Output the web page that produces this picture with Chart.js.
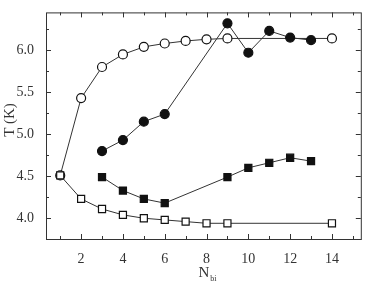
<!DOCTYPE html>
<html>
<head>
<meta charset="utf-8">
<script src="https://cdn.jsdelivr.net/npm/chart.js@4"></script>
<style>
  html, body { margin: 0; padding: 0; background: #fff; }
  #wrap { width: 367px; height: 282px; }
</style>
</head>
<body>
<div id="wrap"><canvas id="chart-1"></canvas></div>
<script>
const xOpenCircle = [1, 2, 3, 4, 5, 6, 7, 8, 9, 14];
const yOpenCircle = [4.51, 5.43, 5.80, 5.95, 6.04, 6.08, 6.11, 6.13, 6.14, 6.14];
const xFilledCircle = [3, 4, 5, 6, 9, 10, 11, 12, 13];
const yFilledCircle = [4.80, 4.93, 5.15, 5.24, 6.32, 5.97, 6.23, 6.15, 6.12];
const xFilledSquare = [3, 4, 5, 6, 9, 10, 11, 12, 13];
const yFilledSquare = [4.49, 4.33, 4.23, 4.18, 4.49, 4.60, 4.66, 4.72, 4.68];
const xOpenSquare = [1, 2, 3, 4, 5, 6, 7, 8, 9, 14];
const yOpenSquare = [4.51, 4.23, 4.11, 4.04, 4.00, 3.98, 3.96, 3.94, 3.94, 3.94];
const xTicks = [2, 4, 6, 8, 10, 12, 14];
const yTicks = [4.0, 4.5, 5.0, 5.5, 6.0];

const FONT = "'Liberation Serif', 'DejaVu Serif', serif";
const INK = "#333";

function pts(xs, ys) {
  return xs.map((x, i) => ({ x: x, y: ys[i] }));
}

function series(xs, ys, style, fill) {
  return {
    data: pts(xs, ys),
    showLine: true,
    borderColor: INK,
    borderWidth: 1,
    pointStyle: style,
    pointRadius: style === "rect" ? 5 : 4.5,
    pointBackgroundColor: fill,
    pointBorderColor: "#111",
    pointBorderWidth: 1.2,
  };
}

// frame, inward ticks on all sides, axis titles
const frame = {
  id: "frame",
  afterDraw(chart) {
    const c = chart.ctx;
    const a = chart.chartArea;
    const xs = chart.scales.x;
    const ys = chart.scales.y;
    c.save();
    c.strokeStyle = INK;
    c.lineWidth = 1;
    c.strokeRect(a.left + 0.5, a.top + 0.5, a.right - a.left, a.bottom - a.top);
    c.beginPath();
    for (let v = 1; v <= 15; v++) {
      const len = v % 2 === 0 ? 5 : 3;
      const p = Math.round(xs.getPixelForValue(v)) + 0.5;
      c.moveTo(p, a.bottom); c.lineTo(p, a.bottom - len);
      c.moveTo(p, a.top); c.lineTo(p, a.top + len);
    }
    for (let v = 3.75; v <= 6.45; v += 0.25) {
      const len = Math.abs(v * 2 - Math.round(v * 2)) < 0.01 ? 5 : 3;
      const p = Math.round(ys.getPixelForValue(v)) + 0.5;
      c.moveTo(a.left, p); c.lineTo(a.left + len, p);
      c.moveTo(a.right, p); c.lineTo(a.right - len, p);
    }
    c.stroke();

    c.fillStyle = INK;
    c.textBaseline = "alphabetic";
    c.textAlign = "left";
    c.font = "15px " + FONT;
    const nx = (a.left + a.right) / 2 - 5;
    c.fillText("N", nx, 277);
    const nw = c.measureText("N").width;
    c.font = "8px " + FONT;
    c.fillText("bi", nx + nw + 1, 281);

    c.translate(14, 120);
    c.rotate(-Math.PI / 2);
    c.textAlign = "center";
    c.font = "15px " + FONT;
    c.fillText("T (K)", 0, 0);
    c.restore();
  },
};

new Chart(document.getElementById("chart-1"), {
  type: "scatter",
  data: {
    datasets: [
      series(xOpenSquare, yOpenSquare, "rect", "#fff"),
      series(xFilledSquare, yFilledSquare, "rect", "#111"),
      series(xFilledCircle, yFilledCircle, "circle", "#111"),
      series(xOpenCircle, yOpenCircle, "circle", "#fff"),
    ],
  },
  options: {
    responsive: true,
    maintainAspectRatio: false,
    animation: false,
    layout: { padding: { top: 6, right: 6, left: 0, bottom: 0 } },
    plugins: {
      legend: { display: false },
      tooltip: { enabled: false },
    },
    scales: {
      x: {
        type: "linear",
        min: 0.32,
        max: 15.38,
        grid: { display: false },
        border: { display: false },
        afterBuildTicks: (s) => { s.ticks = xTicks.map((v) => ({ value: v })); },
        afterFit: (s) => { s.height = 43; },
        ticks: {
          color: INK,
          padding: 4,
          maxRotation: 0,
          font: { family: FONT, size: 14 },
        },
      },
      y: {
        min: 3.753,
        max: 6.45,
        grid: { display: false },
        border: { display: false },
        afterBuildTicks: (s) => { s.ticks = yTicks.map((v) => ({ value: v })); },
        afterFit: (s) => { s.width = 46; },
        ticks: {
          color: INK,
          padding: 4,
          font: { family: FONT, size: 14 },
          callback: (v) => Number(v).toFixed(1),
        },
      },
    },
  },
  plugins: [frame],
});
</script>
</body>
</html>
